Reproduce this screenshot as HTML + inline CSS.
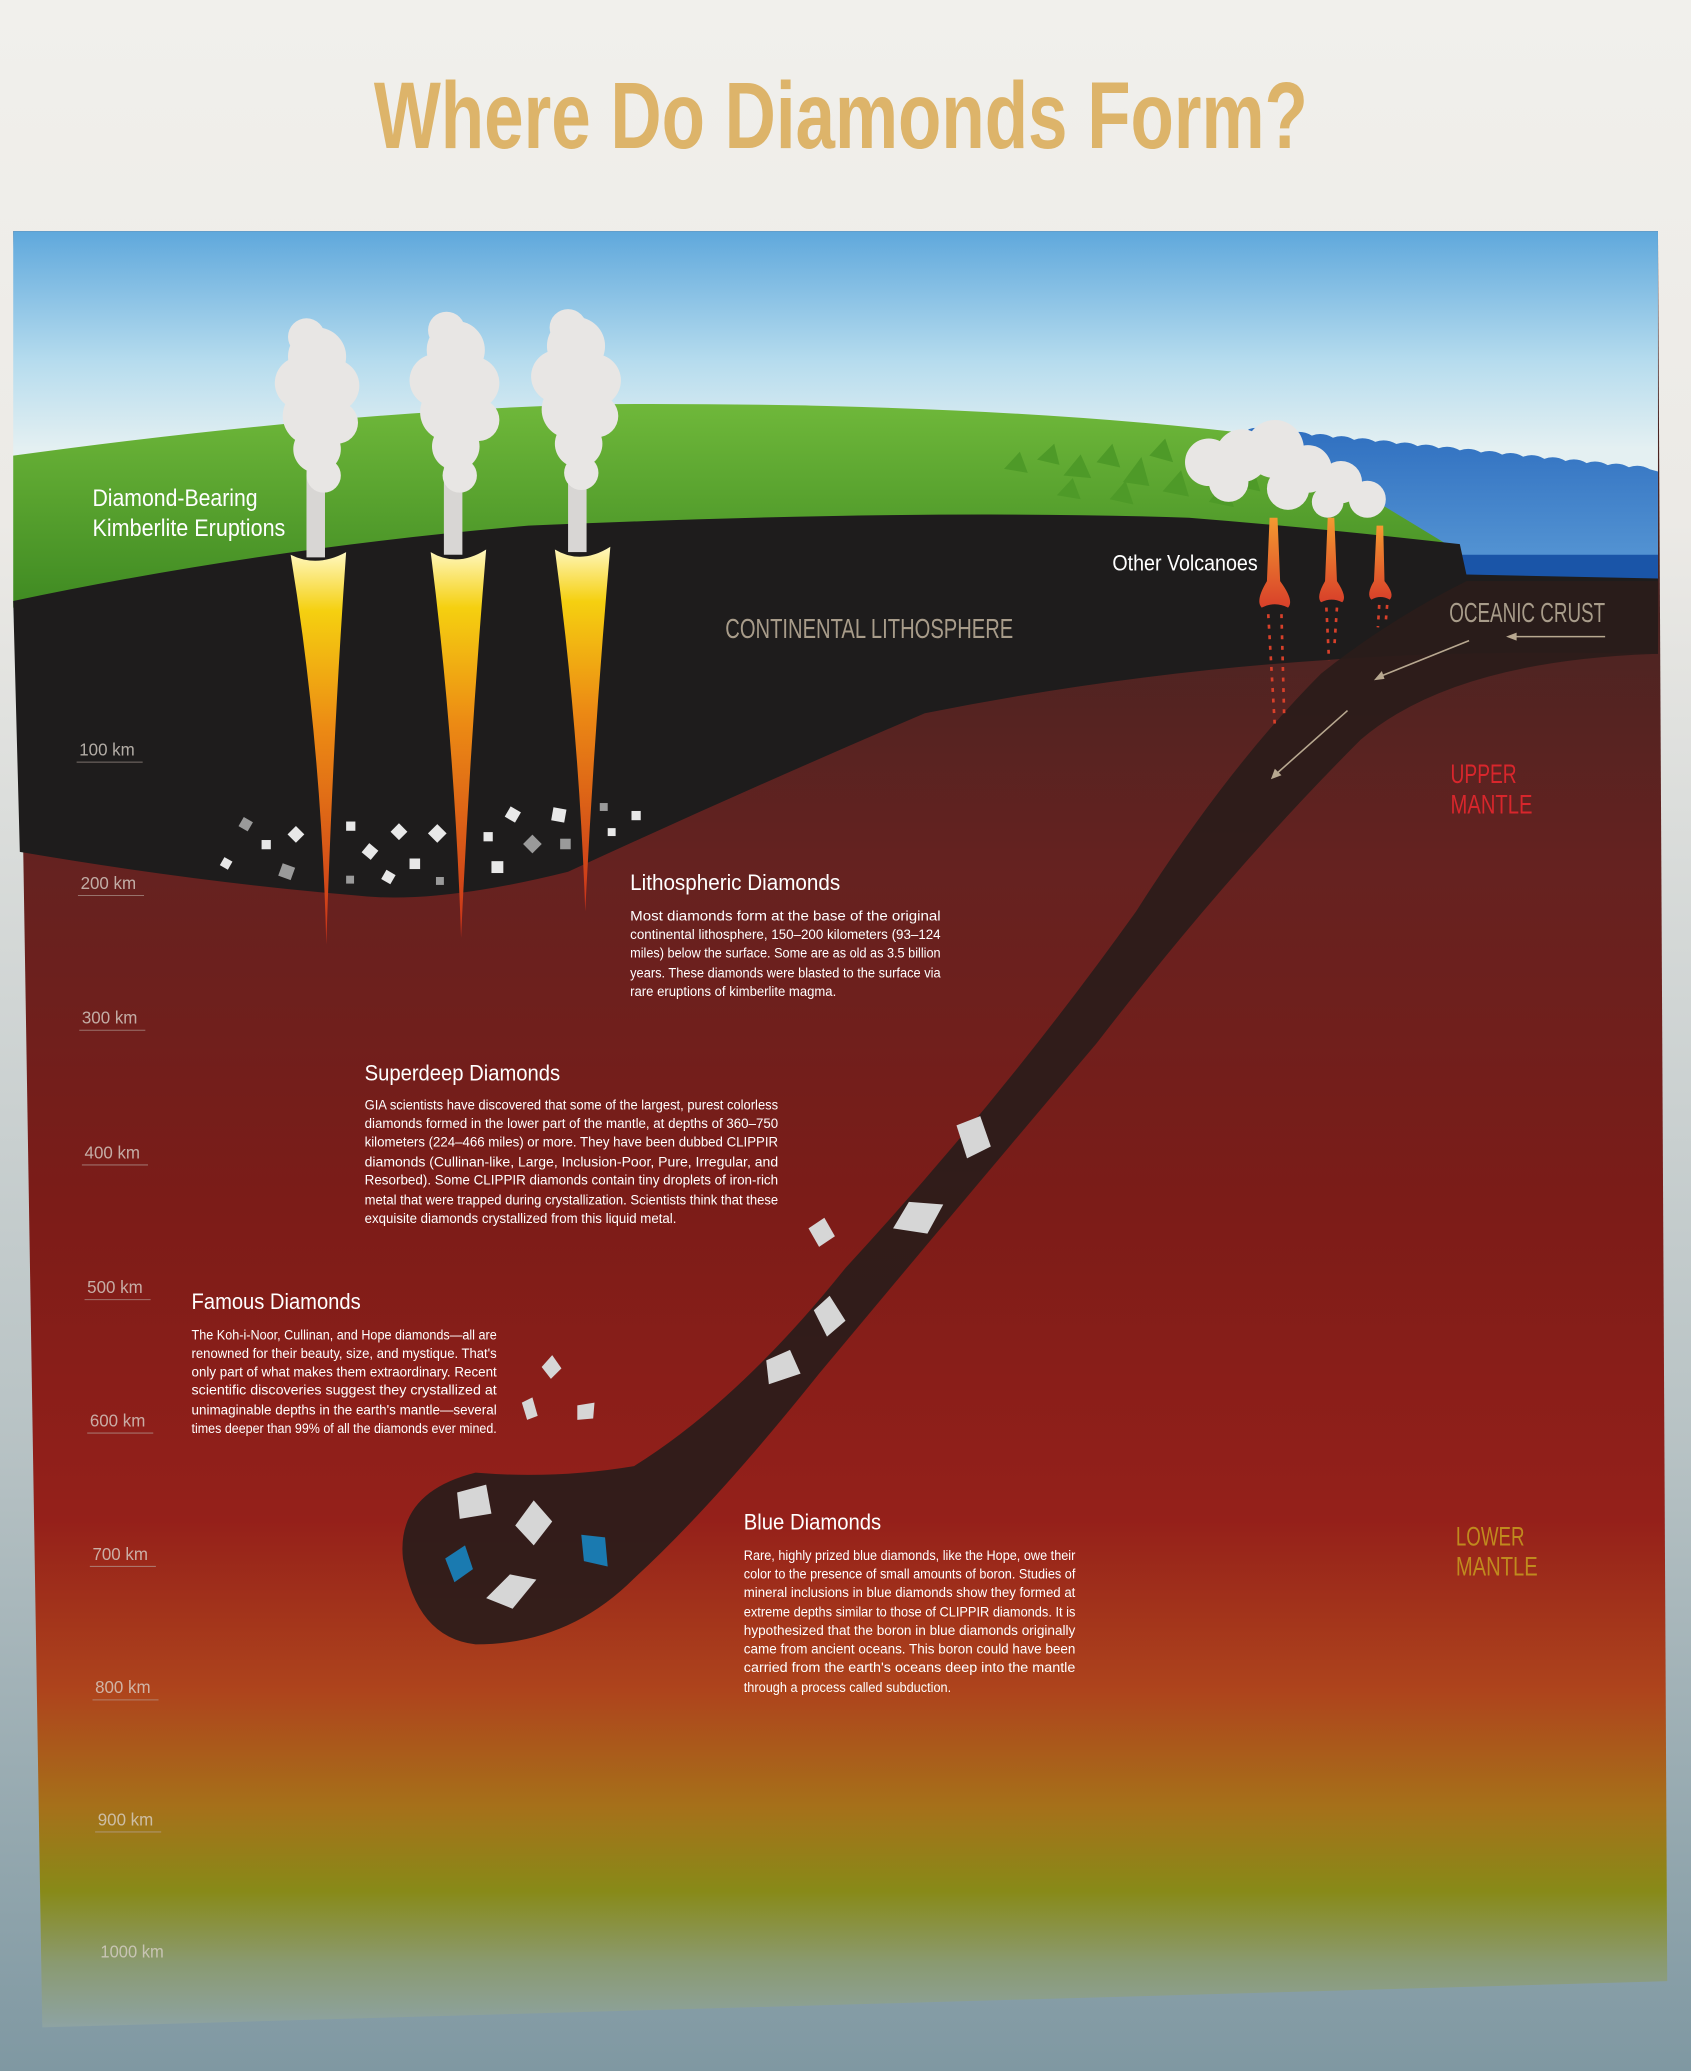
<!DOCTYPE html>
<html><head><meta charset="utf-8"><style>
html,body{margin:0;padding:0;width:1691px;height:2071px;overflow:hidden;background:#e8e8e4}
svg{display:block}
text{font-family:"Liberation Sans",sans-serif}
</style></head><body>
<svg width="1691" height="2071" viewBox="0 0 1280 1568" preserveAspectRatio="none" xmlns="http://www.w3.org/2000/svg">
<defs>
<linearGradient id="bg" x1="0" y1="0" x2="0" y2="1">
<stop offset="0" stop-color="#f1f0ec"/><stop offset="0.25" stop-color="#eceae6"/><stop offset="0.7" stop-color="#b7c2c4"/><stop offset="1" stop-color="#7f98a2"/></linearGradient>
<linearGradient id="sky" gradientUnits="userSpaceOnUse" x1="0" y1="175" x2="0" y2="340">
<stop offset="0" stop-color="#5fa8dc"/><stop offset="0.6" stop-color="#b6dcee"/><stop offset="1" stop-color="#e4f0f2"/></linearGradient>
<linearGradient id="mantle" gradientUnits="userSpaceOnUse" x1="0" y1="460" x2="0" y2="1540">
<stop offset="0" stop-color="#4a2422"/><stop offset="0.18" stop-color="#652220"/><stop offset="0.42" stop-color="#7c1c18"/><stop offset="0.64" stop-color="#95201a"/><stop offset="0.76" stop-color="#ae441c"/><stop offset="0.84" stop-color="#a6701a"/><stop offset="0.9" stop-color="#888a18"/><stop offset="0.95" stop-color="#8a9a70"/><stop offset="1" stop-color="#8ea4a8"/></linearGradient>
<linearGradient id="green" x1="0" y1="0" x2="0" y2="1"><stop offset="0" stop-color="#6fb83a"/><stop offset="1" stop-color="#3f8a22"/></linearGradient>
<linearGradient id="sea" x1="0" y1="0" x2="0" y2="1"><stop offset="0" stop-color="#2f6fc0"/><stop offset="1" stop-color="#5a9ad6"/></linearGradient>
<linearGradient id="pipe" x1="0" y1="0" x2="0" y2="1"><stop offset="0" stop-color="#fff8c0"/><stop offset="0.15" stop-color="#f5d010"/><stop offset="0.45" stop-color="#ec8a14"/><stop offset="1" stop-color="#c8301a"/></linearGradient>
<linearGradient id="vpipe" x1="0" y1="0" x2="0" y2="1"><stop offset="0" stop-color="#f59a30"/><stop offset="1" stop-color="#d8402a"/></linearGradient>
</defs>
<rect width="1280" height="1568" fill="url(#bg)"/>
<text x="283" y="112" font-size="72" font-weight="bold" fill="#ddb46a" textLength="707" lengthAdjust="spacingAndGlyphs">Where Do Diamonds Form?</text>
<polygon points="10,175 1255,175 1262,1500 32,1535" fill="url(#mantle)"/>
<path d="M10,175 H1255 V470 H10 Z" fill="url(#sky)"/>
<path d="M945,325 q8,-3 16,1.6 q8,-3 16,1.6 q8,-3 16,1.6 q8,-3 16,1.6 q8,-3 16,1.6 q8,-3 16,1.6 q8,-3 16,1.6 q8,-3 16,1.6 q8,-3 16,1.6 q8,-3 16,1.6 q8,-3 16,1.6 q8,-3 16,1.6 q8,-3 16,1.6 q8,-3 16,1.6 q8,-3 16,1.6 q8,-3 16,1.6 q8,-3 16,1.6 q8,-3 16,1.6 q8,-3 16,1.6 L1255,357 V440 H1100 L960,420 Z" fill="url(#sea)"/>
<path d="M1100,420 H1255 V440 H1100 Z" fill="#1a55a8"/>
<path d="M10,345 Q250,312 450,306 Q750,304 960,330 L1100,415 L1100,420 L10,460 Z" fill="url(#green)"/>
<path d="M10,455 Q200,415 400,398 Q700,385 900,392 Q1000,400 1105,412 L1110,435 L1255,438 V495 Q1100,492 1000,500 Q850,510 700,540 Q560,600 430,660 Q330,685 270,678 Q150,668 15,645 Z" fill="#1e1c1c"/>
<path d="M1255,440 L1110,440 Q1050,470 1000,510 Q930,580 860,690 Q760,830 640,960 Q560,1060 480,1110 Q420,1120 360,1115 Q300,1130 305,1180 Q315,1240 360,1245 Q430,1245 480,1195 Q540,1140 620,1040 Q720,920 830,790 Q930,660 1030,560 Q1100,500 1255,495 Z" fill="#2a1c1a" opacity="0.92"/>
<g fill="#4e9a28">
<polygon points="760,355 772,342 778,358"/><polygon points="785,348 798,336 802,352"/><polygon points="805,360 818,344 826,362"/><polygon points="830,350 842,336 848,354"/><polygon points="850,365 864,346 870,368"/><polygon points="870,345 882,332 888,350"/><polygon points="880,372 894,356 900,376"/><polygon points="900,360 914,344 920,364"/><polygon points="915,380 928,364 934,384"/><polygon points="935,368 948,352 954,372"/><polygon points="800,375 812,362 818,378"/><polygon points="840,378 852,364 858,382"/>
</g>
<g fill="url(#pipe)">
<path d="M220,420 Q240,430 262,418 Q252,560 247,715 Q243,560 220,420Z"/>
<path d="M326,418 Q346,430 368,416 Q356,560 349,710 Q344,560 326,418Z"/>
<path d="M420,416 Q440,428 462,414 Q450,550 443,690 Q438,550 420,416Z"/>
</g>
<g fill="#e8e6e4">
<g><rect x="232" y="350" width="14" height="72" fill="#d8d6d4"/>
<circle cx="240" cy="270" r="22"/><circle cx="228" cy="290" r="20"/><circle cx="252" cy="292" r="20"/><circle cx="236" cy="315" r="22"/><circle cx="255" cy="320" r="16"/><circle cx="240" cy="340" r="18"/><circle cx="245" cy="360" r="13"/><circle cx="232" cy="255" r="14"/></g>
<g><rect x="336" y="350" width="14" height="70" fill="#d8d6d4"/>
<circle cx="345" cy="265" r="22"/><circle cx="330" cy="288" r="20"/><circle cx="358" cy="290" r="20"/><circle cx="340" cy="312" r="22"/><circle cx="362" cy="318" r="16"/><circle cx="345" cy="338" r="18"/><circle cx="348" cy="360" r="13"/><circle cx="338" cy="250" r="14"/></g>
<g><rect x="430" y="348" width="14" height="70" fill="#d8d6d4"/>
<circle cx="436" cy="262" r="22"/><circle cx="422" cy="285" r="20"/><circle cx="450" cy="288" r="20"/><circle cx="432" cy="310" r="22"/><circle cx="452" cy="315" r="16"/><circle cx="438" cy="336" r="18"/><circle cx="440" cy="358" r="13"/><circle cx="430" cy="248" r="14"/></g>
<circle cx="915" cy="350" r="18"/><circle cx="940" cy="345" r="20"/><circle cx="965" cy="340" r="22"/><circle cx="990" cy="355" r="18"/><circle cx="1015" cy="365" r="16"/><circle cx="1035" cy="378" r="14"/><circle cx="930" cy="365" r="15"/><circle cx="975" cy="370" r="16"/><circle cx="1005" cy="380" r="12"/>
</g>
<g fill="url(#vpipe)">
<path d="M961,392 L967,392 L969,440 Q980,455 975,460 Q965,455 955,460 Q950,455 959,440Z"/>
<path d="M1005,392 L1010,392 L1012,440 Q1020,452 1016,456 Q1008,452 1000,456 Q996,452 1003,440Z"/>
<path d="M1042,398 L1047,398 L1048,440 Q1056,450 1052,454 Q1045,450 1038,454 Q1034,450 1040,440Z"/>
</g>
<g stroke="#d8402a" stroke-width="2" stroke-dasharray="3,5">
<line x1="960" y1="465" x2="965" y2="550"/><line x1="970" y1="465" x2="972" y2="540"/><line x1="1004" y1="460" x2="1006" y2="500"/><line x1="1012" y1="460" x2="1010" y2="490"/><line x1="1044" y1="458" x2="1043" y2="475"/><line x1="1050" y1="458" x2="1049" y2="470"/>
</g>
<g stroke="#b8a890" stroke-width="1.2" fill="#b8a890">
<line x1="1215" y1="482" x2="1145" y2="482"/><polygon points="1140,482 1148,479 1148,485" stroke="none"/>
<line x1="1112" y1="485" x2="1045" y2="512"/><polygon points="1040,515 1046,508 1048,514" stroke="none"/>
<line x1="1020" y1="538" x2="966" y2="586"/><polygon points="962,590 965,582 970,587" stroke="none"/>
</g>
<g fill="#e8e8e8">
<rect x="182" y="620" width="8" height="8" transform="rotate(30 186 624)" fill="#9a9a9a"/>
<rect x="198" y="636" width="7" height="7"/>
<rect x="220" y="627" width="9" height="9" transform="rotate(45 224 631)"/>
<rect x="168" y="650" width="7" height="7" transform="rotate(30 171 653)"/>
<rect x="212" y="655" width="10" height="10" transform="rotate(20 217 660)" fill="#9a9a9a"/>
<rect x="262" y="622" width="7" height="7"/>
<rect x="276" y="640" width="9" height="9" transform="rotate(40 280 644)"/>
<rect x="298" y="625" width="9" height="9" transform="rotate(45 302 629)"/>
<rect x="326" y="626" width="10" height="10" transform="rotate(45 331 631)"/>
<rect x="290" y="660" width="8" height="8" transform="rotate(30 294 664)"/>
<rect x="310" y="650" width="8" height="8"/>
<rect x="262" y="663" width="6" height="6" fill="#9a9a9a"/>
<rect x="330" y="664" width="6" height="6" fill="#9a9a9a"/>
<rect x="366" y="630" width="7" height="7"/>
<rect x="384" y="612" width="9" height="9" transform="rotate(30 388 616)"/>
<rect x="398" y="634" width="10" height="10" transform="rotate(45 403 639)" fill="#9a9a9a"/>
<rect x="372" y="652" width="9" height="9"/>
<rect x="418" y="612" width="10" height="10" transform="rotate(10 423 617)"/>
<rect x="424" y="635" width="8" height="8" fill="#9a9a9a"/>
<rect x="454" y="608" width="6" height="6" fill="#9a9a9a"/>
<rect x="478" y="614" width="7" height="7"/>
<rect x="460" y="627" width="6" height="6"/>
</g>
<g fill="#d6d6d6">
<polygon points="724,852 742,845 750,868 732,877"/>
<polygon points="676,930 688,910 714,912 702,934"/>
<polygon points="612,930 624,922 632,936 620,944"/>
<polygon points="616,992 628,981 640,1000 626,1012"/>
<polygon points="580,1030 598,1022 606,1040 582,1048"/>
<polygon points="410,1035 418,1026 425,1036 417,1044"/>
<polygon points="395,1062 403,1058 407,1072 399,1075"/>
<polygon points="437,1064 450,1062 449,1074 437,1075"/>
<polygon points="346,1130 368,1124 372,1146 348,1150"/>
<polygon points="390,1155 404,1136 418,1152 404,1170"/>
<polygon points="368,1210 386,1192 406,1196 388,1218"/>
</g>
<polygon points="337,1180 352,1170 358,1188 344,1198" fill="#1a7ab0"/>
<polygon points="440,1162 458,1164 460,1186 442,1182" fill="#1a7ab0"/>
<g fill="#fff">
<text x="70" y="383" font-size="18" textLength="125" lengthAdjust="spacingAndGlyphs">Diamond-Bearing</text>
<text x="70" y="406" font-size="18" textLength="146" lengthAdjust="spacingAndGlyphs">Kimberlite Eruptions</text>
<text x="842" y="432" font-size="17" textLength="110" lengthAdjust="spacingAndGlyphs">Other Volcanoes</text>
</g>
<text x="549" y="483" font-size="21" fill="#a89c8a" textLength="218" lengthAdjust="spacingAndGlyphs">CONTINENTAL LITHOSPHERE</text>
<text x="1097" y="471" font-size="21" fill="#a89c8a" textLength="118" lengthAdjust="spacingAndGlyphs">OCEANIC CRUST</text>
<text x="1098" y="593" font-size="20" fill="#d8262c" textLength="50" lengthAdjust="spacingAndGlyphs">UPPER</text>
<text x="1098" y="616" font-size="20" fill="#d8262c" textLength="62" lengthAdjust="spacingAndGlyphs">MANTLE</text>
<text x="1102" y="1170" font-size="20" fill="#c08a1e" textLength="52" lengthAdjust="spacingAndGlyphs">LOWER</text>
<text x="1102" y="1193" font-size="20" fill="#c08a1e" textLength="62" lengthAdjust="spacingAndGlyphs">MANTLE</text>
<g fill="#d8d0c8" font-size="13" opacity="0.8">
<text x="60" y="572" textLength="42" lengthAdjust="spacingAndGlyphs">100 km</text>
<text x="61" y="673" textLength="42" lengthAdjust="spacingAndGlyphs">200 km</text>
<text x="62" y="775" textLength="42" lengthAdjust="spacingAndGlyphs">300 km</text>
<text x="64" y="877" textLength="42" lengthAdjust="spacingAndGlyphs">400 km</text>
<text x="66" y="979" textLength="42" lengthAdjust="spacingAndGlyphs">500 km</text>
<text x="68" y="1080" textLength="42" lengthAdjust="spacingAndGlyphs">600 km</text>
<text x="70" y="1181" textLength="42" lengthAdjust="spacingAndGlyphs">700 km</text>
<text x="72" y="1282" textLength="42" lengthAdjust="spacingAndGlyphs">800 km</text>
<text x="74" y="1382" textLength="42" lengthAdjust="spacingAndGlyphs">900 km</text>
<text x="76" y="1482" textLength="48" lengthAdjust="spacingAndGlyphs">1000 km</text>
</g>
<g stroke="#b8a8a0" stroke-width="0.8" opacity="0.6">
<line x1="58" y1="577" x2="108" y2="577"/><line x1="59" y1="678" x2="109" y2="678"/><line x1="60" y1="780" x2="110" y2="780"/><line x1="62" y1="882" x2="112" y2="882"/><line x1="64" y1="984" x2="114" y2="984"/><line x1="66" y1="1085" x2="116" y2="1085"/><line x1="68" y1="1186" x2="118" y2="1186"/><line x1="70" y1="1287" x2="120" y2="1287"/><line x1="72" y1="1387" x2="122" y2="1387"/>
</g>
<g fill="#fff">
<text x="477" y="674" font-size="17" textLength="159" lengthAdjust="spacingAndGlyphs">Lithospheric Diamonds</text>
<g font-size="10.5">
<text x="477" y="697" textLength="235" lengthAdjust="spacingAndGlyphs">Most diamonds form at the base of the original</text>
<text x="477" y="711" textLength="235" lengthAdjust="spacingAndGlyphs">continental lithosphere, 150–200 kilometers (93–124</text>
<text x="477" y="725" textLength="235" lengthAdjust="spacingAndGlyphs">miles) below the surface. Some are as old as 3.5 billion</text>
<text x="477" y="740" textLength="235" lengthAdjust="spacingAndGlyphs">years. These diamonds were blasted to the surface via</text>
<text x="477" y="754" textLength="156" lengthAdjust="spacingAndGlyphs">rare eruptions of kimberlite magma.</text>
</g>
<text x="276" y="818" font-size="17" textLength="148" lengthAdjust="spacingAndGlyphs">Superdeep Diamonds</text>
<g font-size="10.5">
<text x="276" y="840" textLength="313" lengthAdjust="spacingAndGlyphs">GIA scientists have discovered that some of the largest, purest colorless</text>
<text x="276" y="854" textLength="313" lengthAdjust="spacingAndGlyphs">diamonds formed in the lower part of the mantle, at depths of 360–750</text>
<text x="276" y="868" textLength="313" lengthAdjust="spacingAndGlyphs">kilometers (224–466 miles) or more. They have been dubbed CLIPPIR</text>
<text x="276" y="883" textLength="313" lengthAdjust="spacingAndGlyphs">diamonds (Cullinan-like, Large, Inclusion-Poor, Pure, Irregular, and</text>
<text x="276" y="897" textLength="313" lengthAdjust="spacingAndGlyphs">Resorbed). Some CLIPPIR diamonds contain tiny droplets of iron-rich</text>
<text x="276" y="912" textLength="313" lengthAdjust="spacingAndGlyphs">metal that were trapped during crystallization. Scientists think that these</text>
<text x="276" y="926" textLength="236" lengthAdjust="spacingAndGlyphs">exquisite diamonds crystallized from this liquid metal.</text>
</g>
<text x="145" y="991" font-size="17" textLength="128" lengthAdjust="spacingAndGlyphs">Famous Diamonds</text>
<g font-size="10.5">
<text x="145" y="1014" textLength="231" lengthAdjust="spacingAndGlyphs">The Koh-i-Noor, Cullinan, and Hope diamonds—all are</text>
<text x="145" y="1028" textLength="231" lengthAdjust="spacingAndGlyphs">renowned for their beauty, size, and mystique. That's</text>
<text x="145" y="1042" textLength="231" lengthAdjust="spacingAndGlyphs">only part of what makes them extraordinary. Recent</text>
<text x="145" y="1056" textLength="231" lengthAdjust="spacingAndGlyphs">scientific discoveries suggest they crystallized at</text>
<text x="145" y="1071" textLength="231" lengthAdjust="spacingAndGlyphs">unimaginable depths in the earth's mantle—several</text>
<text x="145" y="1085" textLength="231" lengthAdjust="spacingAndGlyphs">times deeper than 99% of all the diamonds ever mined.</text>
</g>
<text x="563" y="1158" font-size="17" textLength="104" lengthAdjust="spacingAndGlyphs">Blue Diamonds</text>
<g font-size="10.5">
<text x="563" y="1181" textLength="251" lengthAdjust="spacingAndGlyphs">Rare, highly prized blue diamonds, like the Hope, owe their</text>
<text x="563" y="1195" textLength="251" lengthAdjust="spacingAndGlyphs">color to the presence of small amounts of boron. Studies of</text>
<text x="563" y="1209" textLength="251" lengthAdjust="spacingAndGlyphs">mineral inclusions in blue diamonds show they formed at</text>
<text x="563" y="1224" textLength="251" lengthAdjust="spacingAndGlyphs">extreme depths similar to those of CLIPPIR diamonds. It is</text>
<text x="563" y="1238" textLength="251" lengthAdjust="spacingAndGlyphs">hypothesized that the boron in blue diamonds originally</text>
<text x="563" y="1252" textLength="251" lengthAdjust="spacingAndGlyphs">came from ancient oceans. This boron could have been</text>
<text x="563" y="1266" textLength="251" lengthAdjust="spacingAndGlyphs">carried from the earth's oceans deep into the mantle</text>
<text x="563" y="1281" textLength="157" lengthAdjust="spacingAndGlyphs">through a process called subduction.</text>
</g>
</g>
</svg>
</body></html>
